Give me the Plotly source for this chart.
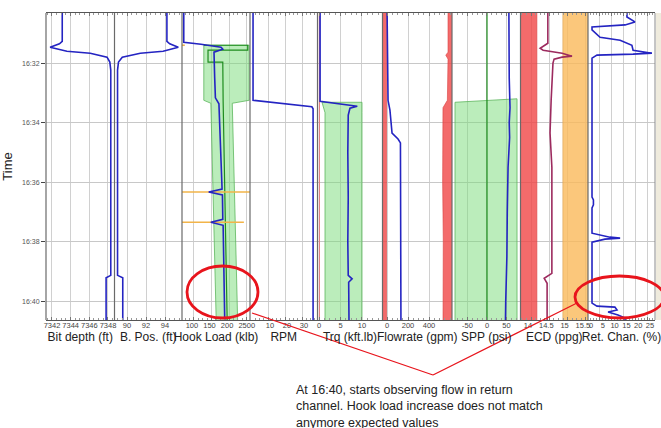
import plotly.graph_objects as go

DAY = "2021-03-15 "

# ---------------- data ----------------
# Bit depth / bit position (mirrored curves)
depth_time = ["16:30:00", "16:31:16", "16:31:21", "16:31:28", "16:31:36", "16:31:40", "16:31:48",
              "16:31:58", "16:32:14", "16:39:08", "16:39:13", "16:41:00"]
bit_depth = [7343.1, 7343.1, 7342.8, 7341.8, 7343.6, 7346.1, 7347.9, 7348.2, 7348.3, 7348.3, 7347.8, 7347.8]
bit_pos = [94.2, 94.2, 94.5, 95.4, 93.8, 91.4, 89.5, 89.1, 89.0, 89.0, 89.55, 89.55]

# Hook load
hook_time = ["16:30:00", "16:31:18", "16:31:22", "16:31:28", "16:31:32", "16:31:38", "16:32:30", "16:33:10",
             "16:33:22", "16:35:00", "16:36:14", "16:36:20", "16:36:26", "16:37:15", "16:37:21", "16:37:27",
             "16:38:30", "16:39:40", "16:41:00"]
hook_load = [71, 71, 120, 177, 182, 157, 159, 161, 171, 176, 180, 142, 181, 182, 148, 183, 184, 186, 188]
hook_env_time = ["16:31:24", "16:33:15", "16:33:21", "16:41:00"]
hook_env_low = [128, 128, 148, 164]
hook_env_high = [257, 257, 209, 225]
hook_exp_time = ["16:31:24", "16:31:24", "16:31:34", "16:31:34", "16:31:58", "16:31:58", "16:33:18", "16:41:00"]
hook_exp_val = [128, 253, 253, 140, 140, 182, 183, 195]
mark_time = ["16:31:24", "16:36:20", "16:37:21"]
mark_end = [74, 262, 242]

# RPM
rpm_time = ["16:30:00", "16:33:15", "16:33:28", "16:33:32", "16:41:00"]
rpm = [1.2, 1.2, 35.8, 36.5, 36.5]

# Torque
trq_time = ["16:30:00", "16:33:17", "16:33:27", "16:33:31", "16:33:45", "16:35:00", "16:36:30", "16:38:00",
            "16:39:08", "16:39:15", "16:39:22", "16:41:00"]
trq = [0.25, 0.25, 8.9, 7.2, 6.8, 6.7, 6.8, 6.7, 6.8, 7.7, 6.9, 7.0]
trq_env_time = ["16:33:19", "16:33:40", "16:41:00"]
trq_env_low = [0.7, 1.4, 1.4]
trq_env_high = [10.0, 10.0, 10.0]

# Flowrate
flow_time = ["16:30:00", "16:33:15", "16:33:35", "16:34:21", "16:34:33", "16:34:41", "16:41:00"]
flow = [0, 10, 28, 48, 105, 128, 133]
flow_lim_time = ["16:30:00", "16:31:38", "16:31:44", "16:31:52", "16:33:15", "16:33:30", "16:36:00",
                 "16:38:00", "16:41:00"]
flow_lim = [581, 581, 560, 581, 575, 533, 530, 536, 533]
flow_low_band = [-60, -5]

# Standpipe pressure
spp_time = ["16:30:00", "16:31:00", "16:32:30", "16:33:30", "16:34:00", "16:34:30", "16:35:30", "16:37:00",
            "16:38:30", "16:40:00", "16:41:00"]
spp = [56, 56, 57, 59, 57, 58, 54, 52, 51, 48, 47]
spp_env_time = ["16:33:19", "16:33:12"]
spp_env = [-82, 77]

# ECD
ecd_time = ["16:30:00", "16:31:20", "16:31:30", "16:31:34", "16:31:40", "16:31:46", "16:31:48", "16:31:52",
            "16:32:00", "16:32:40", "16:33:15", "16:34:21", "16:35:30", "16:37:02", "16:39:04", "16:39:14",
            "16:39:24", "16:41:00"]
ecd = [14.46, 14.46, 14.25, 14.33, 14.85, 15.12, 14.85, 14.63, 14.60, 14.57, 14.55, 14.52, 14.57, 14.57,
       14.57, 14.36, 14.44, 14.44]
ecd_pore_band = [13.5, 14.16]
ecd_frac_band = [14.87, 15.8]

# Return channel
ret_time = ["16:30:00", "16:30:27", "16:30:37", "16:30:43", "16:30:47", "16:30:53", "16:31:08", "16:31:14",
            "16:31:24", "16:31:34", "16:31:40", "16:31:42", "16:31:44", "16:31:50", "16:36:30", "16:36:36",
            "16:36:46", "16:36:52", "16:37:43", "16:37:51", "16:37:53", "16:37:55", "16:38:01", "16:40:04",
            "16:40:10", "16:40:12", "16:40:18", "16:40:22", "16:40:28", "16:40:34", "16:41:00"]
ret = [16.5, 16.5, 19.9, 15.7, 1.7, 1.7, 5.1, 13.6, 18.6, 19.1, 27.1, 19.1, 3.8, 1.7, 1.7, 2.3, 2.3, 1.7,
       1.7, 9.3, 13.6, 7.2, 1.7, 1.7, 3.8, 11.4, 12.3, 8.5, 12.7, 15.7, 15.7]

band_time = ["16:30:00", "16:41:00"]

titles = ["Bit depth (ft)", "B. Pos. (ft)", "Hook Load (klb)", "RPM", "Trq (kft.lb)",
          "Flowrate (gpm)", "SPP (psi)", "ECD (ppg)", "Ret. Chan. (%)"]
tick_vals = [[7342, 7344, 7346, 7348], [90, 92, 94, 96], [100, 150, 200, 250], [0, 10, 20, 30],
             [0, 5, 10], [0, 200, 400], [-50, 0, 50], [14, 14.5, 15, 15.5], [0, 5, 10, 15, 20, 25]]
tick_text = [["7342", "7344", "7346", "7348"], ["90", "92", "94", "96"], ["100", "150", "200", "250"],
             ["0", "10", "20", "30"], ["0", "5", "10"], ["0", "200", "400"], ["-50", "0", "50"],
             ["14", "14.5", "15", "15.5"], ["0", "5", "10", "15", "20", "25"]]
time_ticks = ["16:32", "16:34", "16:36", "16:38", "16:40"]

# ---------------- layout geometry ----------------
FIG_W, FIG_H = 661, 428
L, R, TOP, BOT = 46, 655, 13, 320
BND = [46, 114.5, 182, 250, 317.5, 382.5, 452, 520.5, 588, 655]
RANGES = [[7341.36, 7348.70], [88.68, 95.79], [66, 259.4], [-0.59, 39.1], [-0.35, 14.77],
          [-42.9, 619], [-89.7, 85.9], [13.713, 15.557], [0, 28.39]]
MINOR = [0.5, 0.5, 12.5, 2.5, 1.25, 50, 12.5, 0.125, 1.25]
LABEL_SHIFT = [0, 0, -2, 2, 0, 0, 0, -3, 3]
PW, PH = R - L, BOT - TOP


def px(x):
    return (x - L) / PW


def py(y):
    return (BOT - y) / PH


def T(lst):
    return [DAY + s for s in lst]


BLUE = "#2424C2"
GREEN_FILL = "rgba(120,220,120,0.5)"
GREEN_EDGE = "#5DB65D"
DKGREEN = "#1E8C1E"
RED_FILL = "rgba(240,70,70,0.8)"
RED_EDGE = "#D84040"
ORANGE_FILL = "rgba(250,185,90,0.8)"
MAROON = "#9C2A5E"
ORANGE = "#F2B449"

fig = go.Figure()


def ax(i):
    return "x" if i == 1 else f"x{i}"


def add_line(i, xs, ts, color, width=1.6):
    fig.add_trace(go.Scatter(x=xs, y=T(ts), mode="lines", xaxis=ax(i), yaxis="y",
                             line=dict(color=color, width=width), hoverinfo="skip", showlegend=False))


def add_poly(i, xs, ts, fill, edge, ew=0.8):
    fig.add_trace(go.Scatter(x=xs, y=T(ts), mode="lines", fill="toself", fillcolor=fill, xaxis=ax(i),
                             yaxis="y", line=dict(color=edge, width=ew), hoverinfo="skip", showlegend=False))


def band(i, lo, hi, fill, edge):
    add_poly(i, [lo, hi, hi, lo, lo], [band_time[0], band_time[0], band_time[1], band_time[1], band_time[0]],
             fill, edge, 0.6)


# Track 1 & 2
add_line(1, bit_depth, depth_time, BLUE)
add_line(2, bit_pos, depth_time, BLUE)

# Track 3 hook load
add_poly(3, hook_env_low + hook_env_high[::-1] + hook_env_low[:1],
         hook_env_time + hook_env_time[::-1] + hook_env_time[:1], GREEN_FILL, GREEN_EDGE)
add_line(3, hook_exp_val, hook_exp_time, DKGREEN, 1.2)
for t, e in zip(mark_time, mark_end):
    add_line(3, [RANGES[2][0] - 5, e], [t, t], ORANGE, 1.6)
add_line(3, hook_load, hook_time, BLUE)

# Track 4 RPM
add_line(4, rpm, rpm_time, BLUE)

# Track 5 torque
add_poly(5, trq_env_low + trq_env_high[::-1] + trq_env_low[:1],
         trq_env_time + trq_env_time[::-1] + trq_env_time[:1], GREEN_FILL, GREEN_EDGE)
add_line(5, [0.08, 0.08], band_time, "rgba(230,90,90,0.8)", 1)
add_line(5, trq, trq_time, BLUE)

# Track 6 flowrate
band(6, flow_low_band[0], flow_low_band[1], RED_FILL, RED_EDGE)
add_poly(6, flow_lim + [650, 650, flow_lim[0]],
         flow_lim_time + [flow_lim_time[-1], flow_lim_time[0], flow_lim_time[0]], RED_FILL, RED_EDGE, 0.6)
add_line(6, flow, flow_time, BLUE)

# Track 7 SPP
add_poly(7, [spp_env[0], spp_env[1], spp_env[1], spp_env[0], spp_env[0]],
         [spp_env_time[0], spp_env_time[1], band_time[1], band_time[1], spp_env_time[0]], GREEN_FILL, GREEN_EDGE)
add_line(7, [0, 0], band_time, DKGREEN, 1.2)
add_line(7, spp, spp_time, BLUE)

# Track 8 ECD
band(8, ecd_pore_band[0], ecd_pore_band[1], RED_FILL, RED_EDGE)
band(8, ecd_frac_band[0], ecd_frac_band[1], ORANGE_FILL, "#D9A050")
add_line(8, ecd, ecd_time, MAROON)

# Track 9 return channel
add_line(9, ret, ret_time, BLUE)

FONT = "Liberation Sans, Arial, sans-serif"
layout = dict(
    width=FIG_W, height=FIG_H, margin=dict(l=L, r=FIG_W - R, t=TOP, b=FIG_H - BOT, autoexpand=False),
    paper_bgcolor="white", plot_bgcolor="white", showlegend=False,
    font=dict(family=FONT, color="#222"),
)
for i in range(9):
    key = "xaxis" if i == 0 else f"xaxis{i + 1}"
    layout[key] = dict(
        domain=[px(BND[i]), px(BND[i + 1])], anchor="y", range=RANGES[i], automargin=False,
        tickmode="array", tickvals=tick_vals[i], ticktext=tick_text[i], tickangle=0,
        ticklabelshift=LABEL_SHIFT[i], ticklabelstandoff=-2,
        tickfont=dict(size=7.5, color="#444"), showgrid=True, gridcolor="#D0D0D0", gridwidth=1,
        zeroline=False, showline=True, linecolor="#555", linewidth=1, mirror="ticks",
        ticks="inside", ticklen=3, tickcolor="#777",
        minor=dict(ticks="inside", ticklen=2, tickcolor="#999", tickmode="linear", tick0=0,
                   dtick=MINOR[i], showgrid=False),
        title=dict(text=titles[i], font=dict(size=12, color="#222"), standoff=2),
    )
layout["yaxis"] = dict(
    type="date", range=[DAY + "16:40:38", DAY + "16:30:19"], anchor="x", domain=[0, 1], automargin=False,
    tickmode="array", tickvals=T([s + ":00" for s in time_ticks]), ticktext=time_ticks,
    tickfont=dict(size=7, color="#555"), showgrid=True, gridcolor="#C8C8C8", gridwidth=1,
    zeroline=False, showline=False, ticks="outside", ticklen=4, tickcolor="#444",
    title=dict(text="Time", font=dict(size=13, color="#222"), standoff=6),
)
fig.update_layout(**layout)

shapes = []
for i in range(9):
    xr = ("x" if i == 0 else f"x{i + 1}") + " domain"
    shapes.append(dict(type="line", xref=xr, yref="y domain", x0=0, x1=0, y0=0, y1=1,
                       line=dict(color="#6A6A6A", width=1.2)))
shapes.append(dict(type="line", xref="x9 domain", yref="y domain", x0=1, x1=1, y0=0, y1=1,
                   line=dict(color="#8A8A8A", width=1)))
shapes.append(dict(type="rect", xref="paper", yref="paper", x0=px(656), x1=px(661), y0=py(320), y1=py(13),
                   fillcolor="#EFEBDD", line=dict(width=0)))
# annotation callouts
RED = "#E8141C"
shapes.append(dict(type="circle", xref="paper", yref="paper", x0=px(187), x1=px(258), y0=py(318), y1=py(266),
                   line=dict(color=RED, width=2.8)))
shapes.append(dict(type="circle", xref="paper", yref="paper", x0=px(575), x1=px(664), y0=py(318), y1=py(276),
                   line=dict(color=RED, width=2.8)))
shapes.append(dict(type="line", xref="paper", yref="paper", x0=px(252), y0=py(313), x1=px(433), y1=py(375),
                   line=dict(color=RED, width=1.2)))
shapes.append(dict(type="line", xref="paper", yref="paper", x0=px(433), y0=py(375), x1=px(577), y1=py(303),
                   line=dict(color=RED, width=1.2)))
fig.update_layout(shapes=shapes)

fig.add_annotation(xref="paper", yref="paper", x=px(294), y=py(381), xanchor="left", yanchor="top",
                   align="left", showarrow=False,
                   text="At 16:40, starts observing flow in return<br>channel. Hook load increase does not match"
                        "<br>anymore expected values",
                   font=dict(size=12.5, color="#222", family=FONT))

fig.write_html("out.html")
